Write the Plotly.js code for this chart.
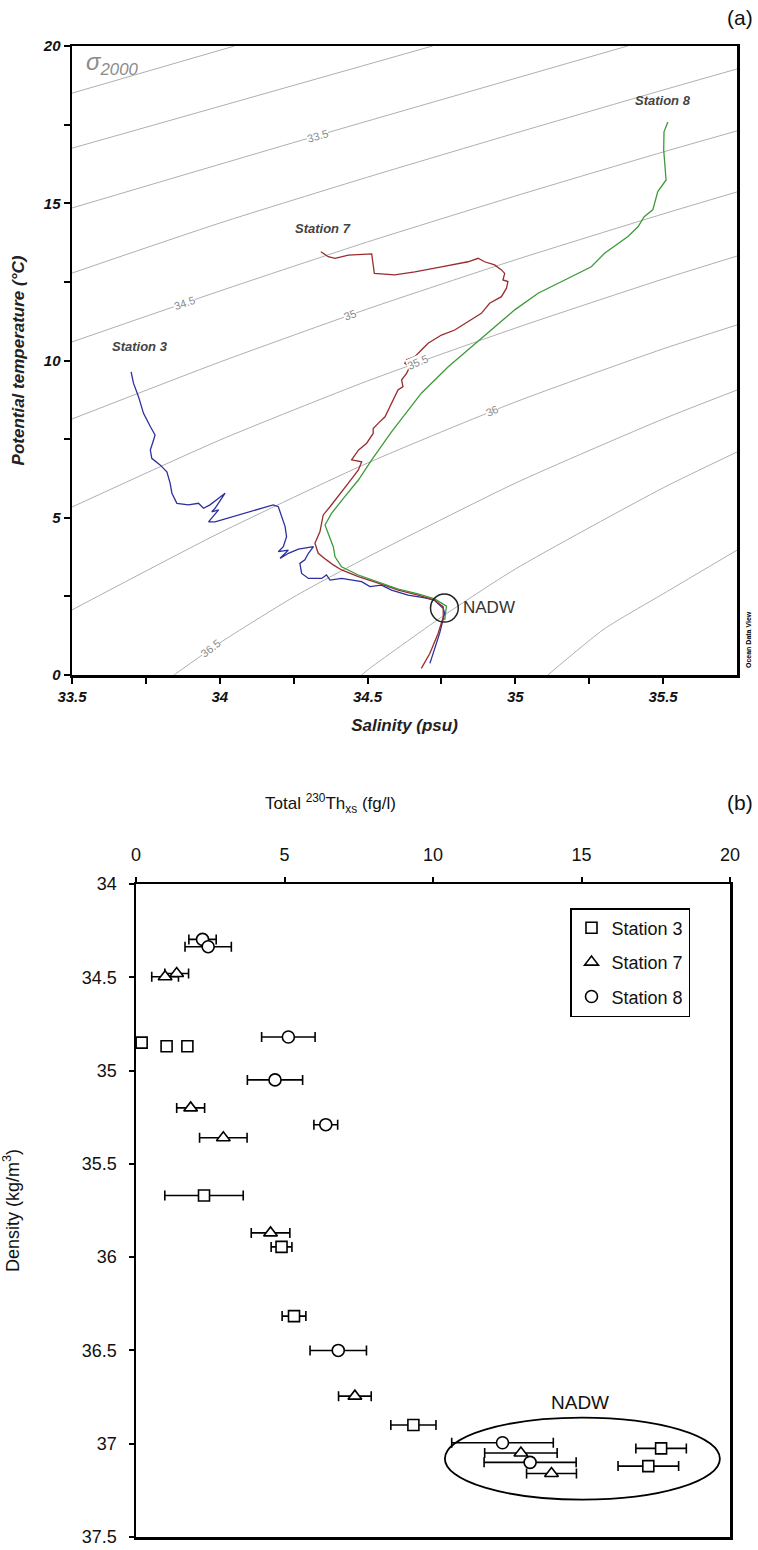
<!DOCTYPE html>
<html><head><meta charset="utf-8">
<script src="https://cdn.plot.ly/plotly-3.0.1.min.js"></script>
<style>body{margin:0;background:#fff}</style>
</head><body><div id="chart" style="width:758px;height:1550px"></div>
<script>
// ---------- Panel (a): T-S diagram ----------
const salinity3 = [33.700,33.708,33.725,33.742,33.765,33.781,33.776,33.765,33.770,33.798,33.821,33.832,33.838,33.855,33.894,33.928,33.945,33.967,33.996,34.018,33.984,33.973,33.996,33.962,33.984,34.041,34.097,34.142,34.181,34.198,34.209,34.221,34.226,34.215,34.198,34.232,34.204,34.232,34.266,34.288,34.317,34.300,34.288,34.271,34.277,34.300,34.345,34.361,34.373,34.412,34.446,34.480,34.508,34.547,34.581,34.637,34.694,34.726,34.756,34.761,34.744,34.722,34.711];
const theta3    = [9.64,9.28,8.85,8.32,7.90,7.63,7.47,7.15,6.89,6.68,6.46,6.10,5.78,5.46,5.41,5.46,5.30,5.41,5.62,5.78,5.30,5.19,5.25,4.87,4.87,5.03,5.19,5.30,5.41,5.35,5.03,4.72,4.40,4.08,3.92,3.97,3.71,3.87,4.00,4.03,4.08,3.87,3.66,3.55,3.23,3.07,3.07,3.18,3.02,3.07,3.02,2.97,2.81,2.86,2.70,2.54,2.45,2.38,2.12,1.96,1.33,0.69,0.37];

const salinity7 = [34.342,34.367,34.390,34.435,34.514,34.519,34.523,34.592,34.660,34.750,34.840,34.874,34.896,34.930,34.953,34.964,34.958,34.975,34.970,34.953,34.930,34.913,34.885,34.840,34.795,34.750,34.705,34.688,34.660,34.632,34.626,34.643,34.632,34.615,34.620,34.603,34.587,34.575,34.559,34.536,34.519,34.519,34.497,34.469,34.446,34.480,34.469,34.435,34.401,34.373,34.350,34.345,34.339,34.322,34.333,34.361,34.384,34.412,34.469,34.536,34.604,34.671,34.727,34.756,34.756,34.739,34.711,34.682];
const theta7    = [13.46,13.30,13.25,13.35,13.39,13.09,12.77,12.72,12.82,12.98,13.14,13.25,13.14,13.04,12.88,12.77,12.56,12.51,12.30,12.03,11.92,11.82,11.50,11.23,10.97,10.81,10.55,10.39,10.12,10.02,9.91,9.80,9.59,9.38,9.17,9.06,8.74,8.53,8.21,8.00,7.84,7.68,7.37,7.15,6.84,6.78,6.52,6.10,5.67,5.35,5.09,4.82,4.56,4.19,3.87,3.66,3.50,3.34,3.13,2.92,2.70,2.54,2.38,2.17,1.85,1.33,0.69,0.21];

const salinity8 = [35.516,35.503,35.502,35.510,35.482,35.465,35.436,35.415,35.381,35.302,35.257,35.167,35.077,34.998,34.919,34.829,34.773,34.682,34.581,34.514,34.469,34.423,34.378,34.356,34.367,34.384,34.390,34.412,34.469,34.536,34.604,34.671,34.727,34.767,34.761];
const theta8    = [17.58,17.27,16.69,15.74,15.37,14.79,14.57,14.25,13.94,13.41,12.98,12.56,12.14,11.61,10.97,10.23,9.80,8.96,7.73,6.84,6.20,5.67,5.14,4.77,4.51,4.08,3.76,3.44,3.18,2.96,2.73,2.58,2.42,2.19,1.75];

// sigma-2000 isopycnals
const isoLevels = [32.5,33.0,33.5,34.0,34.5,35.0,35.5,36.0,36.5,37.0,37.5];
const isoS = [
  [33.5,34.05],
  [33.5,34.72],
  [33.5,34.33,35.38],
  [33.5,34.0,34.5,35.0,35.5,35.75],
  [33.5,34.0,34.5,35.0,35.5,35.75],
  [33.5,34.0,34.5,35.0,35.5,35.75],
  [33.5,34.0,34.5,35.0,35.5,35.75],
  [33.5,34.0,34.5,35.0,35.5,35.75],
  [33.845,34.0,34.25,34.5,35.0,35.5,35.75],
  [34.48,34.5,34.75,35.0,35.5,35.75],
  [35.11,35.3,35.5,35.75]
];
const isoT = [
  [18.5,20],
  [16.75,20],
  [14.85,17.15,20],
  [12.78,14.37,15.83,17.23,18.60,19.27],
  [10.59,12.21,13.77,15.23,16.63,17.30],
  [8.14,9.95,11.64,13.20,14.66,15.36],
  [5.34,7.47,9.35,11.03,12.59,13.32],
  [2.07,4.52,6.74,8.68,10.37,11.13],
  [0,1.02,2.48,3.75,6.10,8.14,9.06],
  [0,0.16,1.84,3.37,5.95,7.09],
  [0,1.46,2.58,3.97]
];
const isoLabelText = ['33.5','34.5','35','35.5','36','36.5'];
const isoLabelS    = [34.33,33.88,34.44,34.67,34.92,33.97];
const isoLabelT    = [17.15,11.82,11.44,9.95,8.40,0.85];
const isoLabelAng  = [-16,-19,-21,-23,-25,-38];

// ---------- Panel (b): 230Th_xs vs density ----------
const th3  = [0.19,1.03,1.73,2.29,4.90,5.32,9.34,17.68,17.25];
const rho3 = [34.85,34.87,34.87,35.67,35.945,36.316,36.90,37.025,37.12];
const err3 = [0,0,0,1.32,0.35,0.40,0.76,0.85,1.02];

const th7  = [0.98,1.37,1.84,2.94,4.53,7.37,12.96,13.99];
const rho7 = [34.497,34.48,35.20,35.36,35.87,36.745,37.05,37.16];
const err7 = [0.45,0.40,0.47,0.80,0.65,0.55,1.22,0.84];

const th8  = [2.24,2.43,5.13,4.68,6.39,6.81,12.34,13.27];
const rho8 = [34.297,34.336,34.82,35.05,35.29,36.50,36.995,37.10];
const err8 = [0.46,0.78,0.90,0.93,0.40,0.95,1.71,1.55];

const FONT = 'Arial, "Liberation Sans", sans-serif';
const traces = [];

isoLevels.forEach((lv,i)=>{
  traces.push({x:isoS[i], y:isoT[i], xaxis:'x', yaxis:'y', mode:'lines',
    line:{color:'#a6a6a6', width:0.9, shape:'spline', smoothing:0.6},
    showlegend:false, hoverinfo:'skip', name:'σ '+lv});
});
traces.push({x:salinity3, y:theta3, xaxis:'x', yaxis:'y', mode:'lines', line:{color:'#2c2f9c', width:1.3}, showlegend:false, name:'Station 3 CTD'});
traces.push({x:salinity7, y:theta7, xaxis:'x', yaxis:'y', mode:'lines', line:{color:'#9a2b30', width:1.3}, showlegend:false, name:'Station 7 CTD'});
traces.push({x:salinity8, y:theta8, xaxis:'x', yaxis:'y', mode:'lines', line:{color:'#3e9a3a', width:1.3}, showlegend:false, name:'Station 8 CTD'});

function pts(x,y,e,sym,size,name){
  return {x:x, y:y, xaxis:'x2', yaxis:'y2', mode:'markers', name:name, legendgroup:name,
    marker:{symbol:sym, size:size, color:'#ffffff', line:{color:'#000', width:1.6}},
    error_x:{type:'data', array:e, visible:true, color:'#000', thickness:1.6, width:5},
    showlegend:true};
}
traces.push(pts(th3,rho3,err3,'square',11,'Station 3'));
traces.push(pts(th7,rho7,err7,'triangle-up',12,'Station 7'));
traces.push(pts(th8,rho8,err8,'circle',12,'Station 8'));

const topTick = {family:FONT, size:15, color:'#111', weight:'bold', style:'italic'};
const botTick = {family:FONT, size:18, color:'#111'};

const annotations = [];
isoLabelText.forEach((t,i)=>{
  annotations.push({xref:'x', yref:'y', x:isoLabelS[i], y:isoLabelT[i], text:t, showarrow:false,
    textangle:isoLabelAng[i], bgcolor:'#ffffff', borderpad:0,
    font:{family:FONT, size:11, color:'#8a8a8a'}});
});
annotations.push(
  {xref:'x', yref:'y', x:33.54, y:19.45, xanchor:'left', yanchor:'middle', text:'σ<sub>2000</sub>', showarrow:false, font:{family:FONT, size:24, color:'#8c8c8c', style:'italic'}},
  {xref:'x', yref:'y', x:33.73, y:10.45, text:'Station 3', showarrow:false, font:{family:FONT, size:13, color:'#444', weight:'bold', style:'italic'}},
  {xref:'x', yref:'y', x:34.35, y:14.2, text:'Station 7', showarrow:false, font:{family:FONT, size:13, color:'#444', weight:'bold', style:'italic'}},
  {xref:'x', yref:'y', x:35.5, y:18.28, text:'Station 8', showarrow:false, font:{family:FONT, size:13, color:'#444', weight:'bold', style:'italic'}},
  {xref:'x', yref:'y', x:34.815, y:2.16, xanchor:'left', text:'NADW', showarrow:false, font:{family:FONT, size:17, color:'#333'}},
  {xref:'paper', yref:'paper', x:749/758, y:1-640/1550, xanchor:'center', yanchor:'middle', text:'Ocean Data View', textangle:-90, showarrow:false, font:{family:FONT, size:7, color:'#000', weight:'bold'}},
  {xref:'paper', yref:'paper', x:740/758, y:1-18/1550, xanchor:'center', yanchor:'middle', text:'(a)', showarrow:false, font:{family:FONT, size:21, color:'#111'}},
  {xref:'paper', yref:'paper', x:740/758, y:1-802/1550, xanchor:'center', yanchor:'middle', text:'(b)', showarrow:false, font:{family:FONT, size:21, color:'#111'}},
  {xref:'paper', yref:'paper', x:330/758, y:1-803/1550, xanchor:'center', yanchor:'middle', text:'Total <sup>230</sup>Th<sub>xs</sub> (fg/l)', showarrow:false, font:{family:FONT, size:17, color:'#111'}},
  {xref:'x2', yref:'y2', x:14.95, y:36.78, text:'NADW', showarrow:false, font:{family:FONT, size:19, color:'#111'}}
);

const layout = {
  width:758, height:1550,
  margin:{l:0, r:0, t:0, b:0},
  paper_bgcolor:'#fff', plot_bgcolor:'#fff',
  showlegend:true,
  legend:{x:570/758, y:1-908/1550, xanchor:'left', yanchor:'top', bgcolor:'#fff',
    bordercolor:'#000', borderwidth:1.5, font:{family:FONT, size:18, color:'#111'},
    itemwidth:30, traceorder:'grouped', tracegroupgap:8},
  xaxis:{domain:[72/758, 737/758], anchor:'y', range:[33.5,35.75],
    tickvals:[33.5,34,34.5,35,35.5], ticktext:['33.5','34','34.5','35','35.5'],
    ticks:'outside', ticklen:6, tickwidth:2, tickcolor:'#000',
    minor:{tickvals:[33.75,34.25,34.75,35.25], ticks:'outside', ticklen:6, tickwidth:2, tickcolor:'#000'},
    showline:true, linewidth:2.5, linecolor:'#000', mirror:true,
    showgrid:false, zeroline:false, tickfont:topTick,
    title:{text:'Salinity (psu)', font:{family:FONT, size:17, color:'#222', weight:'bold', style:'italic'}, standoff:16}},
  yaxis:{domain:[1-675/1550, 1-46/1550], anchor:'x', range:[0,20],
    tickvals:[0,5,10,15,20], ticks:'outside', ticklen:6, tickwidth:2, tickcolor:'#000',
    minor:{tickvals:[2.5,7.5,12.5,17.5], ticks:'outside', ticklen:6, tickwidth:2, tickcolor:'#000'},
    showline:true, linewidth:2.5, linecolor:'#000', mirror:true,
    showgrid:false, zeroline:false, tickfont:topTick,
    title:{text:'Potential temperature (°C)', font:{family:FONT, size:17, color:'#222', weight:'bold', style:'italic'}, standoff:14}},
  xaxis2:{domain:[136/758, 730/758], anchor:'y2', side:'top', range:[0,20],
    tickvals:[0,5,10,15,20], ticks:'outside', ticklen:5, tickwidth:2, tickcolor:'#000',
    ticklabelstandoff:8,
    showline:true, linewidth:2.5, linecolor:'#000', mirror:true,
    showgrid:false, zeroline:false, tickfont:botTick},
  yaxis2:{domain:[1-1537/1550, 1-884/1550], anchor:'x2', range:[37.5,34],
    tickvals:[34,34.5,35,35.5,36,36.5,37,37.5], ticktext:['34','34.5','35','35.5','36','36.5','37','37.5'],
    ticks:'outside', ticklen:5, tickwidth:2, tickcolor:'#000',
    ticklabelstandoff:8,
    showline:true, linewidth:2.5, linecolor:'#000', mirror:true,
    showgrid:false, zeroline:false, tickfont:botTick,
    title:{text:'Density (kg/m<sup>3</sup>)', font:{family:FONT, size:18, color:'#111'}, standoff:58}},
  shapes:[
    {type:'circle', xref:'x', yref:'y', x0:34.713, x1:34.807, y0:1.685, y1:2.575, line:{color:'#222', width:1.5}},
    {type:'circle', xref:'x2', yref:'y2', x0:10.4, x1:19.66, y0:36.86, y1:37.30, line:{color:'#000', width:1.8}}
  ],
  annotations:annotations
};

Plotly.newPlot('chart', traces, layout, {displayModeBar:false, staticPlot:true});
</script></body></html>
